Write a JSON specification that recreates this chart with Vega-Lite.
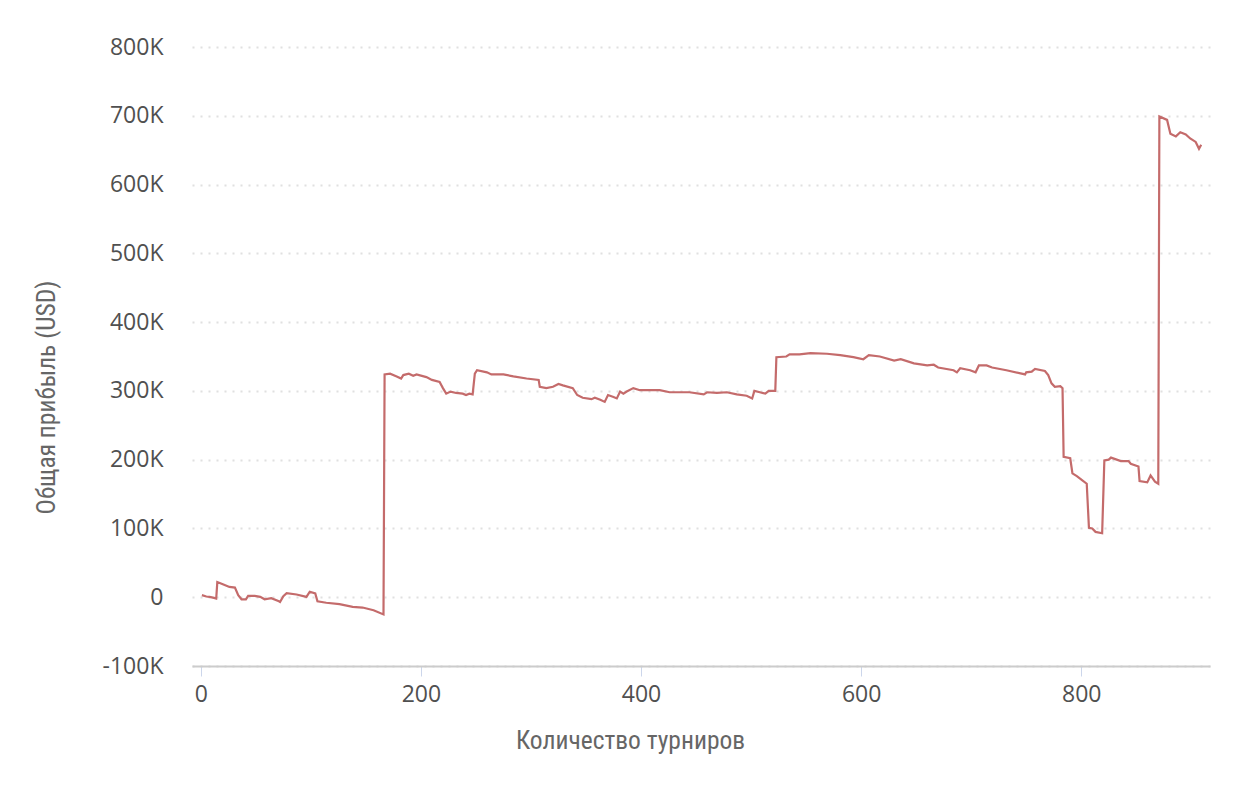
{
  "$schema": "https://vega.github.io/schema/vega-lite/v6.json",
  "width": 1018,
  "height": 619,
  "autosize": {"type": "none"},
  "padding": {"left": 192, "top": 47, "right": 50, "bottom": 124},
  "background": "white",
  "config": {"view": {"stroke": null}},
  "data": {"values": [
    {"n": 1, "v": 3000}, {"n": 5, "v": 1000}, {"n": 8, "v": 500}, {"n": 12, "v": -1000}, {"n": 14, "v": -2000},
    {"n": 15, "v": 22000}, {"n": 20, "v": 19000}, {"n": 26, "v": 15000}, {"n": 31, "v": 14000}, {"n": 34, "v": 3000},
    {"n": 37, "v": -3000}, {"n": 41, "v": -3000}, {"n": 43, "v": 2000}, {"n": 49, "v": 2000}, {"n": 54, "v": 500},
    {"n": 58, "v": -3000}, {"n": 64, "v": -1500}, {"n": 71, "v": -6000}, {"n": 72, "v": -7000}, {"n": 75, "v": 1500},
    {"n": 78, "v": 6000}, {"n": 87, "v": 4000}, {"n": 96, "v": 500}, {"n": 99, "v": 8000}, {"n": 104, "v": 5500},
    {"n": 106, "v": -6000}, {"n": 114, "v": -8000}, {"n": 126, "v": -10000}, {"n": 138, "v": -14000}, {"n": 147, "v": -15000},
    {"n": 157, "v": -19000}, {"n": 166, "v": -25000}, {"n": 167, "v": 324000}, {"n": 172, "v": 325000}, {"n": 178, "v": 321000},
    {"n": 182, "v": 318000}, {"n": 184, "v": 323000}, {"n": 189, "v": 325000}, {"n": 193, "v": 322000}, {"n": 196, "v": 324000},
    {"n": 205, "v": 320000}, {"n": 210, "v": 316000}, {"n": 217, "v": 313000}, {"n": 220, "v": 304000}, {"n": 223, "v": 296000},
    {"n": 227, "v": 299000}, {"n": 232, "v": 297000}, {"n": 238, "v": 296000}, {"n": 241, "v": 294000}, {"n": 244, "v": 296000},
    {"n": 247, "v": 295000}, {"n": 249, "v": 325000}, {"n": 251, "v": 330000}, {"n": 260, "v": 327000}, {"n": 264, "v": 324000},
    {"n": 269, "v": 324000}, {"n": 275, "v": 324000}, {"n": 284, "v": 321000}, {"n": 296, "v": 318000}, {"n": 307, "v": 316000},
    {"n": 308, "v": 306000}, {"n": 314, "v": 304000}, {"n": 320, "v": 306000}, {"n": 325, "v": 310000}, {"n": 329, "v": 308000},
    {"n": 338, "v": 304000}, {"n": 342, "v": 294000}, {"n": 347, "v": 290000}, {"n": 355, "v": 288000}, {"n": 358, "v": 290000},
    {"n": 363, "v": 287000}, {"n": 367, "v": 284000}, {"n": 370, "v": 294000}, {"n": 375, "v": 291000}, {"n": 378, "v": 289000},
    {"n": 381, "v": 299000}, {"n": 384, "v": 296000}, {"n": 387, "v": 299000}, {"n": 393, "v": 304000}, {"n": 399, "v": 301000},
    {"n": 417, "v": 301000}, {"n": 426, "v": 298000}, {"n": 444, "v": 298000}, {"n": 457, "v": 295000}, {"n": 460, "v": 298000},
    {"n": 469, "v": 297000}, {"n": 478, "v": 298000}, {"n": 487, "v": 295000}, {"n": 496, "v": 293000}, {"n": 501, "v": 289000},
    {"n": 503, "v": 300000}, {"n": 508, "v": 298000}, {"n": 513, "v": 296000}, {"n": 516, "v": 300000}, {"n": 522, "v": 300000},
    {"n": 523, "v": 349000}, {"n": 532, "v": 350000}, {"n": 535, "v": 353000}, {"n": 544, "v": 353000}, {"n": 554, "v": 355000},
    {"n": 569, "v": 354000}, {"n": 581, "v": 352000}, {"n": 593, "v": 349000}, {"n": 602, "v": 346000}, {"n": 607, "v": 352000},
    {"n": 617, "v": 350000}, {"n": 630, "v": 344000}, {"n": 636, "v": 346000}, {"n": 648, "v": 340000}, {"n": 660, "v": 337000},
    {"n": 666, "v": 338000}, {"n": 670, "v": 334000}, {"n": 684, "v": 330000}, {"n": 687, "v": 327000}, {"n": 690, "v": 333000},
    {"n": 699, "v": 330000}, {"n": 704, "v": 327000}, {"n": 707, "v": 337000}, {"n": 714, "v": 337000}, {"n": 719, "v": 334000},
    {"n": 732, "v": 330000}, {"n": 749, "v": 324000}, {"n": 750, "v": 327000}, {"n": 755, "v": 328000}, {"n": 758, "v": 332000},
    {"n": 767, "v": 329000}, {"n": 770, "v": 323000}, {"n": 773, "v": 311000}, {"n": 776, "v": 306000}, {"n": 781, "v": 307000},
    {"n": 783, "v": 304000}, {"n": 784, "v": 204000}, {"n": 790, "v": 202000}, {"n": 792, "v": 180000}, {"n": 796, "v": 176000},
    {"n": 801, "v": 170000}, {"n": 805, "v": 165000}, {"n": 807, "v": 101000}, {"n": 810, "v": 100000}, {"n": 813, "v": 95000},
    {"n": 819, "v": 93000}, {"n": 821, "v": 199000}, {"n": 825, "v": 200000}, {"n": 827, "v": 203000}, {"n": 836, "v": 198000},
    {"n": 843, "v": 198000}, {"n": 845, "v": 194000}, {"n": 852, "v": 190000}, {"n": 853, "v": 169000}, {"n": 860, "v": 167000},
    {"n": 863, "v": 177000}, {"n": 867, "v": 168000}, {"n": 870, "v": 165000}, {"n": 871, "v": 699000}, {"n": 878, "v": 694000},
    {"n": 881, "v": 674000}, {"n": 886, "v": 670000}, {"n": 890, "v": 676000}, {"n": 895, "v": 673000}, {"n": 899, "v": 667000},
    {"n": 904, "v": 662000}, {"n": 907, "v": 652000}, {"n": 909, "v": 658000}
  ]},
  "mark": {"type": "line", "color": "#c46b6b", "strokeWidth": 2.2, "interpolate": "linear"},
  "encoding": {
    "x": {
      "field": "n",
      "type": "quantitative",
      "scale": {"domain": [-8, 917], "nice": false, "zero": false},
      "axis": {
        "values": [0, 200, 400, 600, 800],
        "grid": false,
        "domainColor": "#cccccc",
        "domainWidth": 2,
        "tickColor": "#ccd6eb",
        "tickSize": 10,
        "tickWidth": 1,
        "labelFont": "Open Sans",
        "labelFontSize": 23,
        "labelColor": "#505050",
        "labelPadding": 7,
        "title": "Количество турниров",
        "titleFont": "Roboto Condensed, DejaVu Sans Condensed, Roboto",
        "titleFontSize": 25.5,
        "titleFontWeight": "normal",
        "titleColor": "#666666",
        "titleBaseline": "alphabetic",
        "titleAnchor": "middle",
        "titleAlign": "center",
        "titleX": 438,
        "titleY": 82
      }
    },
    "y": {
      "field": "v",
      "type": "quantitative",
      "scale": {"domain": [-100000, 800000], "nice": false, "zero": false},
      "axis": {
        "values": [-100000, 0, 100000, 200000, 300000, 400000, 500000, 600000, 700000, 800000],
        "labelExpr": "datum.value == 0 ? '0' : (datum.value / 1000) + 'K'",
        "domain": false,
        "ticks": false,
        "grid": true,
        "gridColor": "#e0e0e0",
        "gridWidth": 2,
        "gridDash": [2, 6],
        "labelFont": "Open Sans",
        "labelFontSize": 23,
        "labelColor": "#505050",
        "labelPadding": 29,
        "title": "Общая прибыль (USD)",
        "titleFont": "Roboto Condensed, DejaVu Sans Condensed, Roboto",
        "titleFontSize": 25.5,
        "titleFontWeight": "normal",
        "titleColor": "#666666",
        "titleAngle": -90,
        "titleBaseline": "alphabetic",
        "titleAlign": "center",
        "titleX": -138,
        "titleY": 350
      }
    }
  }
}
